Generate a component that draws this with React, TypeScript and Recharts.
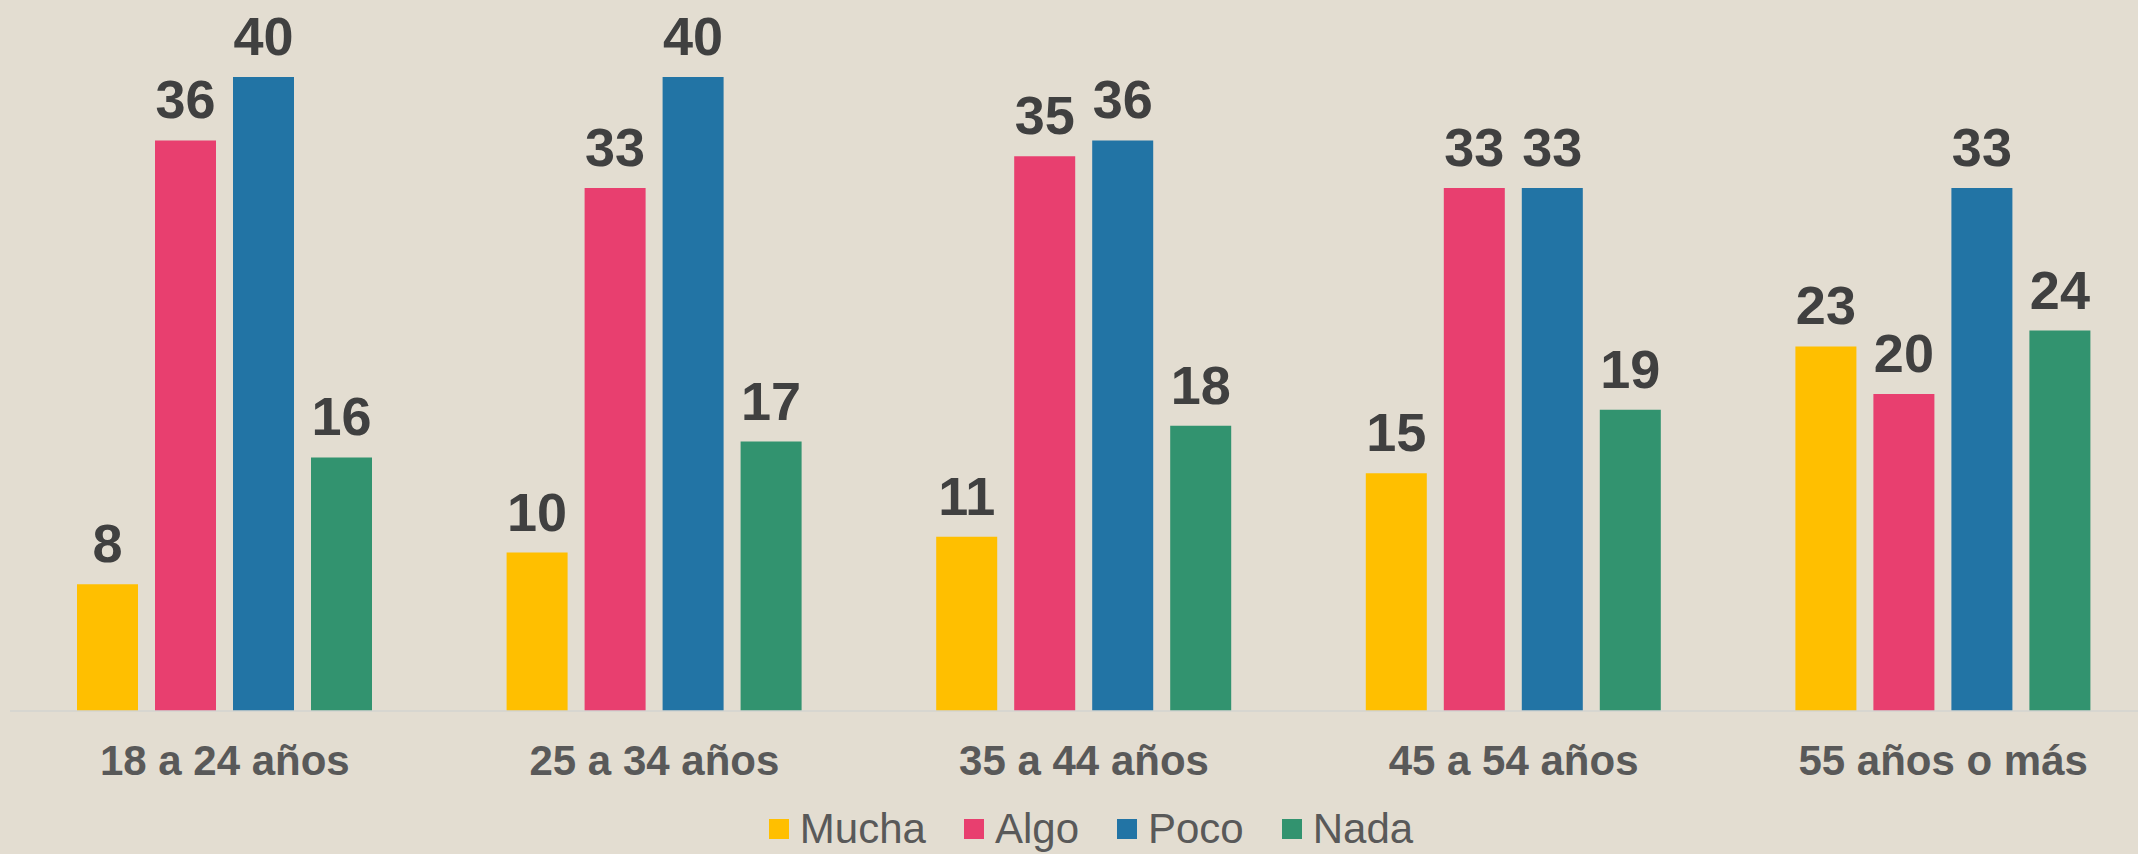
import React from 'react';
import { BarChart, Bar, XAxis, YAxis, Legend, LabelList } from 'recharts';

const categories = ['18 a 24 años', '25 a 34 años', '35 a 44 años', '45 a 54 años', '55 años o más'];
const seriesNames = ['Mucha', 'Algo', 'Poco', 'Nada'];
const mucha = [8, 10, 11, 15, 23];
const algo = [36, 33, 35, 33, 20];
const poco = [40, 40, 36, 33, 33];
const nada = [16, 17, 18, 19, 24];

const data = categories.map((c, i) => ({
  grupo: c,
  Mucha: mucha[i],
  Algo: algo[i],
  Poco: poco[i],
  Nada: nada[i],
}));

const FONT = '"Liberation Sans", Arial, sans-serif';

const CategoryTick = (props: any) => {
  const { x, y, payload } = props;
  return (
    <text x={x} y={y} dy={64} textAnchor="middle" fill="#595959" fontSize={42} fontWeight="bold" fontFamily={FONT}>
      {payload.value}
    </text>
  );
};

const LegendContent = (props: any) => {
  // keep the series order, recharts sorts legend items by name
  const items = [...(props.payload || [])].sort(
    (a: any, b: any) => seriesNames.indexOf(a.value) - seriesNames.indexOf(b.value)
  );
  return (
    <div style={{ display: 'flex', justifyContent: 'center', alignItems: 'center', height: 50, paddingLeft: 14 }}>
      {items.map((p: any, i: number) => (
        <div key={p.value} style={{ display: 'flex', alignItems: 'center', marginLeft: i === 0 ? 0 : 38 }}>
          <span style={{ width: 20, height: 20, background: p.color, display: 'inline-block', marginRight: 11 }} />
          <span style={{ fontFamily: FONT, fontSize: 42, color: '#595959', lineHeight: '50px' }}>{p.value}</span>
        </div>
      ))}
    </div>
  );
};

export default function App() {
  return (
    <div style={{ position: 'fixed', left: 0, top: 0, width: 2138, height: 854, overflow: 'hidden', background: '#E3DDD1' }}>
      <BarChart width={2160} height={854} data={data} margin={{ top: 77, right: 2, left: 10, bottom: 0 }} barSize={61} barGap={17}>
        <XAxis
          dataKey="grupo"
          height={93}
          axisLine={{ stroke: '#D3D3CF', strokeWidth: 1.5 }}
          tickLine={false}
          tickSize={0}
          tickMargin={0}
          tick={<CategoryTick />}
          interval={0}
        />
        <YAxis hide domain={[0, 40]} />
        <Legend verticalAlign="bottom" content={<LegendContent />} />
        <Bar dataKey="Mucha" fill="#FFBF00" isAnimationActive={false}>
          <LabelList dataKey="Mucha" position="top" offset={22} fill="#404040" fontSize={54} fontWeight="bold" fontFamily={FONT} />
        </Bar>
        <Bar dataKey="Algo" fill="#E83F6F" isAnimationActive={false}>
          <LabelList dataKey="Algo" position="top" offset={22} fill="#404040" fontSize={54} fontWeight="bold" fontFamily={FONT} />
        </Bar>
        <Bar dataKey="Poco" fill="#2274A5" isAnimationActive={false}>
          <LabelList dataKey="Poco" position="top" offset={22} fill="#404040" fontSize={54} fontWeight="bold" fontFamily={FONT} />
        </Bar>
        <Bar dataKey="Nada" fill="#32936F" isAnimationActive={false}>
          <LabelList dataKey="Nada" position="top" offset={22} fill="#404040" fontSize={54} fontWeight="bold" fontFamily={FONT} />
        </Bar>
      </BarChart>
    </div>
  );
}
